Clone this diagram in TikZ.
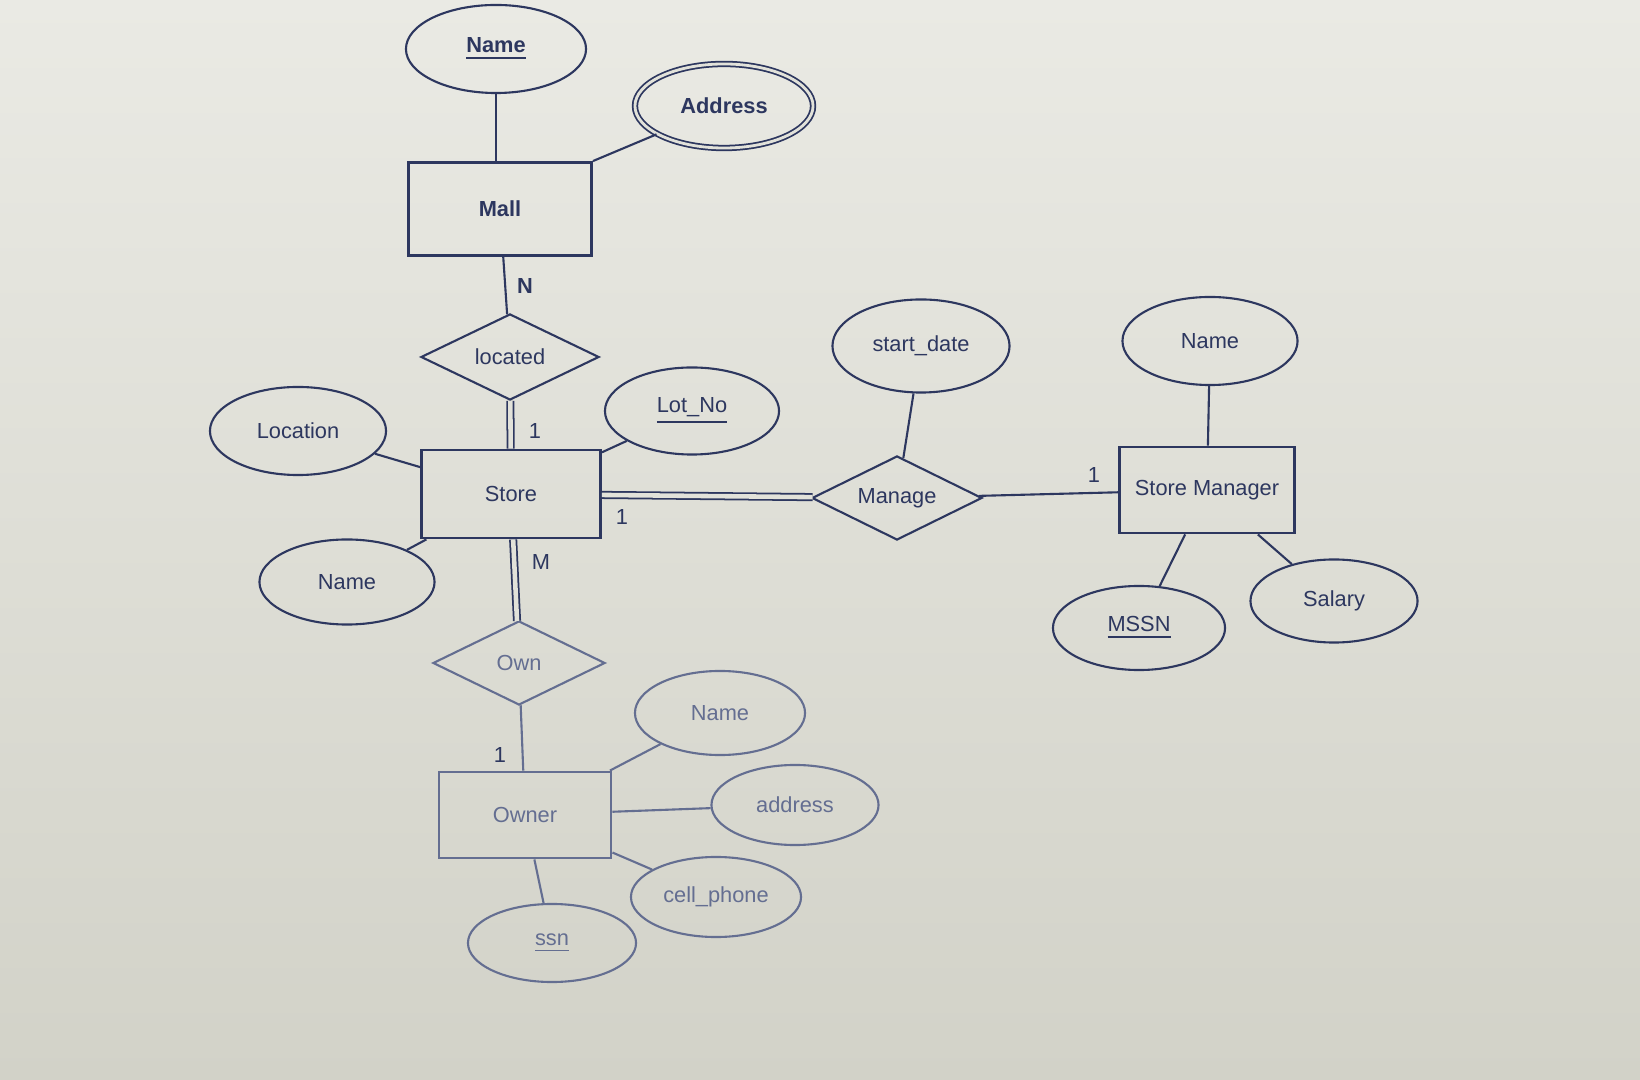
\documentclass[tikz,border=0pt]{standalone}
\usepackage{fontspec}
\setmainfont{Liberation Sans}
\usetikzlibrary{shapes.geometric}
\definecolor{paper}{RGB}{226,226,218}
\definecolor{paperlight}{RGB}{234,234,228}
\definecolor{paperdark}{RGB}{210,210,200}
\definecolor{ink}{RGB}{45,55,95}
\definecolor{inkfaint}{RGB}{100,110,145}
\tikzset{
  erfont/.style={font=\fontsize{6.2}{7}\selectfont},
  erbold/.style={font=\fontsize{6.2}{7}\selectfont\bfseries},
  base/.style={draw=ink, line width=0.6pt, text=ink, inner sep=0pt, erfont},
  entity/.style 2 args={base, rectangle, line width=0.8pt, minimum width=#1cm, minimum height=#2cm},
  attr/.style 2 args={base, ellipse, minimum width=#1cm, minimum height=#2cm},
  rel/.style 2 args={base, diamond, aspect=2, minimum width=#1cm, minimum height=#2cm},
  link/.style={draw=ink, line width=0.6pt},
  total/.style={draw=ink, line width=0.5pt, double=paper, double distance=1.3pt},
  card/.style={text=ink, inner sep=1pt, erfont},
  faint/.style={draw=inkfaint, text=inkfaint},
}
\begin{document}
\begin{tikzpicture}[x=0.01cm, y=-0.01cm]
\useasboundingbox (0,0) rectangle (1640,1080);
\fill[top color=paperlight, bottom color=paperdark] (0,0) rectangle (1640,1080);

% Mall and its attributes
\node[entity={1.83}{0.93}, erbold] (mall) at (500,209) {Mall};
\node[attr={1.80}{0.88}, erbold] (mallname) at (496,49) {\underline{Name}};
\node[attr={1.78}{0.84}, erbold, line width=0.5pt, double=paper, double distance=0.8pt] (address) at (724,106) {Address};
\draw[link] (mallname) -- (mallname |- mall.north);
\draw[link] (mall.north east) -- (address);

% located
\node[rel={1.78}{0.86}] (located) at (510,357) {located};
\draw[link] (mall) -- (located);
\node[card, erbold] (cardmall) at (525,286) {N};

% Store and its attributes
\node[entity={1.79}{0.88}] (store) at (511,494) {Store};
\node[attr={1.76}{0.88}] (location) at (298,431) {Location};
\node[attr={1.74}{0.87}] (lotno) at (692,411) {\underline{Lot\_No}};
\node[attr={1.75}{0.85}] (storename) at (347,582) {Name};
\draw[total] (located) -- (store);
\draw[link] (location) -- (store);
\draw[link] (lotno) -- (store);
\draw[link] (storename) -- (store);
\node[card] (cardlocated) at (535,431) {1};

% Manage and Store Manager
\node[rel={1.70}{0.84}] (manage) at (897,498) {Manage};
\node[attr={1.77}{0.93}] (startdate) at (921,346) {start\_date};
\node[entity={1.75}{0.86}] (sm) at (1207,490) {Store Manager};
\node[attr={1.75}{0.88}] (smname) at (1210,341) {Name};
\node[attr={1.72}{0.84}] (mssn) at (1139,628) {\underline{MSSN}};
\node[attr={1.67}{0.83}] (salary) at (1334,601) {Salary};
\draw[total] (store) -- (manage);
\draw[link] (startdate) -- (manage);
\draw[link] (manage) -- (sm);
\draw[link] (smname) -- (sm);
\draw[link] (mssn) -- (sm);
\draw[link] (salary) -- (sm);
\node[card] (cardstore) at (622,517) {1};
\node[card] (cardsm) at (1094,475) {1};

% Own and Owner
\node[rel={1.72}{0.84}, faint] (own) at (519,663) {Own};
\node[entity={1.72}{0.86}, faint] (owner) at (525,815) {Owner};
\node[attr={1.70}{0.84}, faint] (ownername) at (720,713) {Name};
\node[attr={1.67}{0.80}, faint] (owneraddr) at (795,805) {address};
\node[attr={1.70}{0.80}, faint] (cellphone) at (716,897) {cell\_phone};
\node[attr={1.68}{0.78}, faint] (ssn) at (552,943) {\underline{ssn}};
\draw[total] (store) -- (own);
\draw[link, draw=inkfaint] (own) -- (owner);
\draw[link, draw=inkfaint] (ownername) -- (owner);
\draw[link, draw=inkfaint] (owneraddr) -- (owner);
\draw[link, draw=inkfaint] (cellphone) -- (owner);
\draw[link, draw=inkfaint] (ssn) -- (owner);
\node[card] (cardown) at (541,562) {M};
\node[card] (cardowner) at (500,755) {1};
\end{tikzpicture}
\end{document}
